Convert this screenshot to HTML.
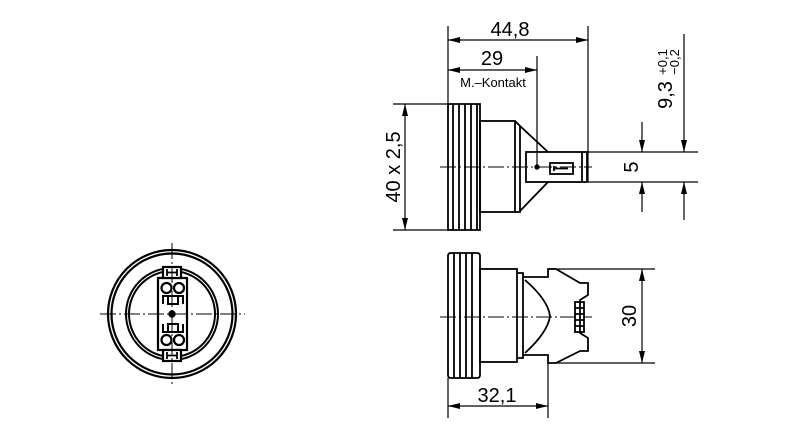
<!DOCTYPE html>
<html><head><meta charset="utf-8"><style>html,body{margin:0;padding:0;background:#fff}svg{display:block}</style></head>
<body>
<svg width="800" height="434" viewBox="0 0 800 434" xmlns="http://www.w3.org/2000/svg" font-family="Liberation Sans, DejaVu Sans, sans-serif">
<defs>
<marker id="a" markerWidth="12" markerHeight="6" refX="12" refY="3" orient="auto" markerUnits="userSpaceOnUse"><path d="M0,0 L12,3 L0,6 z" fill="#000"/></marker>
</defs>
<g stroke="#000" fill="none" stroke-width="1.2">
<line x1="448" y1="26" x2="448" y2="104"/>
<line x1="588" y1="26" x2="588" y2="182"/>
<line x1="537" y1="56" x2="537" y2="166"/>
<line x1="518" y1="40" x2="588" y2="40" marker-end="url(#a)"/>
<line x1="518" y1="40" x2="448" y2="40" marker-end="url(#a)"/>
<line x1="492" y1="70" x2="537" y2="70" marker-end="url(#a)"/>
<line x1="492" y1="70" x2="448" y2="70" marker-end="url(#a)"/>
<line x1="393" y1="104" x2="448" y2="104"/>
<line x1="393" y1="230" x2="448" y2="230"/>
<line x1="405" y1="167" x2="405" y2="104" marker-end="url(#a)"/>
<line x1="405" y1="167" x2="405" y2="230" marker-end="url(#a)"/>
<line x1="588" y1="152" x2="698" y2="152"/>
<line x1="588" y1="182" x2="698" y2="182"/>
<line x1="642" y1="122" x2="642" y2="152" marker-end="url(#a)"/>
<line x1="642" y1="212" x2="642" y2="182" marker-end="url(#a)"/>
<line x1="684" y1="34" x2="684" y2="152" marker-end="url(#a)"/>
<line x1="684" y1="220" x2="684" y2="182" marker-end="url(#a)"/>
</g>
<g stroke="#000" fill="none" stroke-width="1.8">
<path d="M448,104 L480,104 L480,230 L448,230 Z"/>
<path d="M453,104 L453,230 M459,104 L459,230 M465,104 L465,230 M471,104 L471,230 M477,104 L477,230"/>
<rect x="480" y="121" width="35" height="91"/>
<path d="M515,121 L520,126 L520,212 L515,212"/>
<path d="M520,126 L548,152 M520,211 L548,182"/>
<rect x="526" y="152" width="61" height="30"/>
<line x1="582" y1="152" x2="582" y2="182"/>
<rect x="550" y="163" width="23" height="11"/>
<path d="M554,166 L554,171 M554,168.5 L568,168.5"/>
<circle cx="537" cy="167" r="1.8" fill="#000"/>
<path d="M448,256 Q448,253 451,253 L477,253 Q480,253 480,256 L480,375 Q480,378 477,378 L451,378 Q448,378 448,375 Z"/>
<path d="M454,253 L454,378 M460,253 L460,378 M466,253 L466,378 M472,253 L472,378"/>
<rect x="480" y="269" width="37" height="93"/>
<path d="M517,273 L523,273 L523,358 L517,358"/>
<path d="M523,277 L548,277 L548,269 L556,269 L580,283 L588,283 L588,295 L580,300 L580,333 L588,338 L588,351 L580,351 L556,363 L548,363 L548,355 L523,355"/>
<path d="M525,280 Q548,300 550,316 Q548,332 525,353"/>
<rect x="575" y="302" width="9" height="30"/>
<path d="M575,308 L584,308 M575,314 L584,314 M575,320 L584,320 M575,326 L584,326"/>
<circle cx="172" cy="314" r="64" stroke-width="2.2"/>
<circle cx="172" cy="314" r="60.5" stroke-width="2.2"/>
<circle cx="172" cy="314" r="46" stroke-width="2"/>
<circle cx="172" cy="314" r="43" stroke-width="2"/>
<rect x="158" y="278" width="29" height="72" fill="#fff" stroke-width="2.2"/>
<rect x="163" y="267" width="18" height="11" fill="#fff" stroke-width="2.2"/>
<rect x="163" y="350" width="18" height="11" fill="#fff" stroke-width="2.2"/>
<path d="M167,269 L167,276 M177,269 L177,276 M167,272.5 L177,272.5 M167,352 L167,359 M177,352 L177,359 M167,355.5 L177,355.5"/>
<circle cx="166.5" cy="288" r="5" stroke-width="2.2"/><circle cx="179" cy="288" r="5" stroke-width="2.2"/>
<circle cx="166.5" cy="340" r="5" stroke-width="2.2"/><circle cx="179" cy="340" r="5" stroke-width="2.2"/>
<path d="M163,304 L163,296 L183,296 L183,304 M168,296 L168,304 L178,304 L178,296" stroke-width="2"/>
<path d="M163,324 L163,332 L183,332 L183,324 M168,332 L168,324 L178,324 L178,332" stroke-width="2"/>
<circle cx="172" cy="314" r="2.8" fill="#000"/>
</g>
<g stroke="#000" fill="none" stroke-width="1.2">
<line x1="548" y1="269" x2="655" y2="269"/>
<line x1="556" y1="363" x2="655" y2="363"/>
<line x1="642" y1="316" x2="642" y2="269" marker-end="url(#a)"/>
<line x1="642" y1="316" x2="642" y2="363" marker-end="url(#a)"/>
<line x1="448" y1="378" x2="448" y2="418"/>
<line x1="548" y1="363" x2="548" y2="418"/>
<line x1="498" y1="406" x2="448" y2="406" marker-end="url(#a)"/>
<line x1="498" y1="406" x2="548" y2="406" marker-end="url(#a)"/>
</g>
<g stroke="#000" stroke-width="1" stroke-dasharray="16,3,2,3" fill="none">
<line x1="440" y1="167" x2="592" y2="167"/>
<line x1="440" y1="317" x2="592" y2="317"/>
<line x1="100" y1="314" x2="245" y2="314"/>
<line x1="172" y1="243" x2="172" y2="385"/>
</g>
<g fill="#000">
<text x="510" y="36" font-size="20" text-anchor="middle">44,8</text>
<text x="492" y="65" font-size="20" text-anchor="middle">29</text>
<text x="493" y="87" font-size="13" text-anchor="middle">M.–Kontakt</text>
<text x="497" y="402" font-size="20" text-anchor="middle">32,1</text>
<text transform="translate(400,167) rotate(-90)" font-size="20" text-anchor="middle">40 x 2,5</text>
<text transform="translate(638,167) rotate(-90)" font-size="20" text-anchor="middle">5</text>
<text transform="translate(636,316) rotate(-90)" font-size="20" text-anchor="middle">30</text>
<text transform="translate(672,95) rotate(-90)" font-size="20" text-anchor="middle">9,3</text>
<text transform="translate(667,62) rotate(-90)" font-size="13" text-anchor="middle">+0,1</text>
<text transform="translate(679,62) rotate(-90)" font-size="13" text-anchor="middle">−0,2</text>
</g>
</svg>
</body></html>
